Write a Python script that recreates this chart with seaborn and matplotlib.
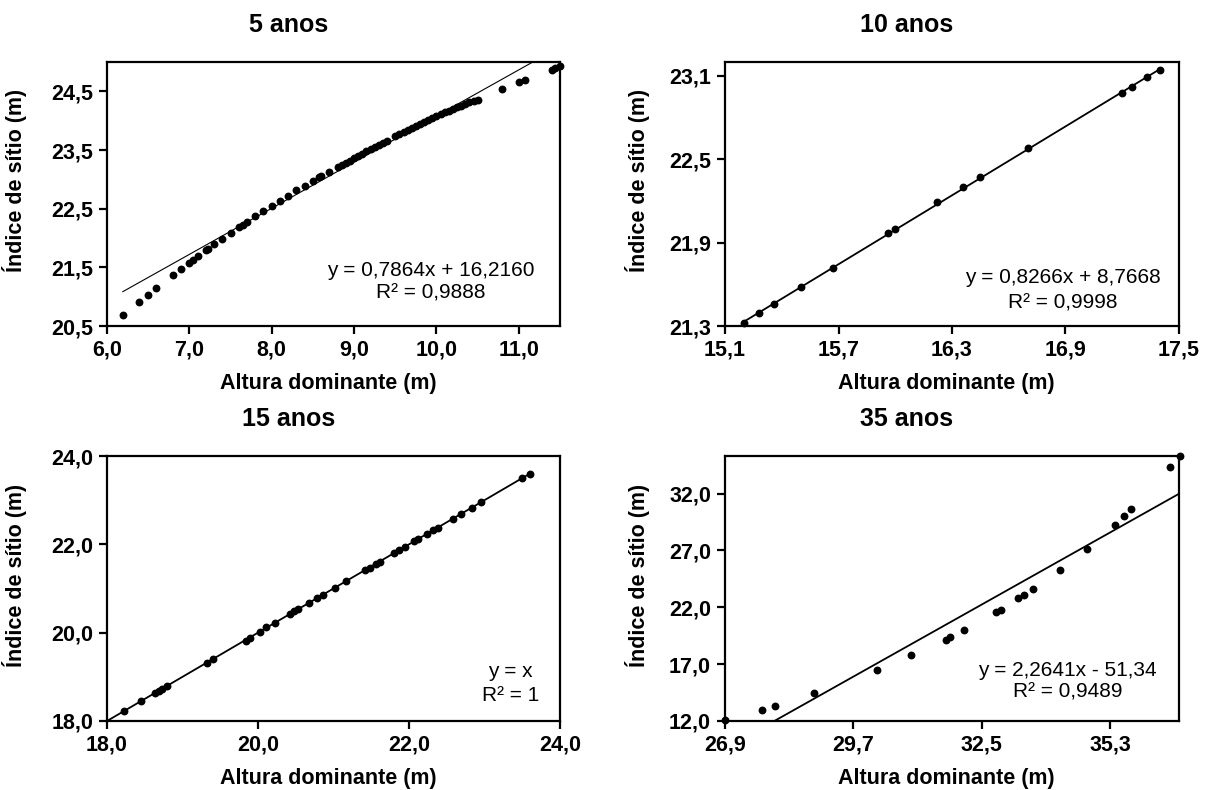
import numpy as np
import pandas as pd
import matplotlib
matplotlib.use("Agg")
import matplotlib.pyplot as plt
import seaborn as sns

sns.set_style("white")
plt.rcParams['font.family'] = ['Liberation Sans', 'DejaVu Sans']
plt.rcParams['text.color'] = 'black'
plt.rcParams['axes.labelcolor'] = 'black'
plt.rcParams['xtick.color'] = 'black'
plt.rcParams['ytick.color'] = 'black'

# ---------------- data ----------------
titles = ["5 anos", "10 anos", "15 anos", "35 anos"]

x5 = [6.19, 6.39, 6.50, 6.60, 6.80, 6.90, 7.00, 7.05, 7.10, 7.20, 7.23, 7.30, 7.40, 7.50,
      7.60, 7.65, 7.70, 7.80, 7.90, 8.00, 8.10, 8.20, 8.30, 8.40, 8.50, 8.58, 8.60, 8.70,
      8.80, 8.85, 8.90, 8.95, 9.00, 9.05, 9.10, 9.15, 9.20, 9.25, 9.30, 9.35, 9.40, 9.50,
      9.55, 9.60, 9.65, 9.70, 9.75, 9.80, 9.85, 9.90, 9.95, 10.00, 10.05, 10.10, 10.15,
      10.20, 10.25, 10.30, 10.35, 10.40, 10.45, 10.50, 10.80, 11.00, 11.07, 11.40, 11.44, 11.50]
y5 = [20.68, 20.91, 21.03, 21.15, 21.37, 21.48, 21.58, 21.63, 21.69, 21.79, 21.82, 21.89, 21.98, 22.09,
      22.18, 22.23, 22.28, 22.37, 22.46, 22.55, 22.63, 22.72, 22.81, 22.89, 22.97, 23.04, 23.06, 23.13,
      23.21, 23.24, 23.28, 23.32, 23.36, 23.40, 23.44, 23.48, 23.52, 23.55, 23.59, 23.62, 23.66, 23.74,
      23.77, 23.80, 23.84, 23.87, 23.91, 23.94, 23.98, 24.01, 24.04, 24.08, 24.11, 24.14, 24.17,
      24.20, 24.23, 24.25, 24.28, 24.31, 24.33, 24.36, 24.54, 24.66, 24.69, 24.87, 24.89, 24.94]

x10 = [15.20, 15.28, 15.36, 15.50, 15.67, 15.96, 16.00, 16.22, 16.36, 16.45, 16.70, 17.20, 17.25, 17.33, 17.40]
y10 = [21.32, 21.39, 21.46, 21.58, 21.72, 21.97, 22.00, 22.19, 22.30, 22.37, 22.58, 22.98, 23.02, 23.09, 23.14]

x15 = [18.22, 18.45, 18.63, 18.69, 18.73, 18.80, 19.33, 19.41, 19.84, 19.89, 20.02, 20.11, 20.23,
       20.43, 20.48, 20.53, 20.67, 20.78, 20.86, 21.02, 21.16, 21.42, 21.48, 21.56, 21.61, 21.80,
       21.87, 21.95, 22.07, 22.12, 22.24, 22.32, 22.38, 22.58, 22.69, 22.83, 22.95, 23.50, 23.60]
y15 = [18.23, 18.45, 18.64, 18.69, 18.73, 18.80, 19.32, 19.40, 19.81, 19.87, 20.02, 20.12, 20.23,
       20.43, 20.48, 20.53, 20.67, 20.78, 20.86, 21.02, 21.17, 21.42, 21.46, 21.56, 21.61, 21.80,
       21.87, 21.95, 22.07, 22.12, 22.24, 22.32, 22.38, 22.58, 22.69, 22.83, 22.95, 23.50, 23.60]

x35 = [26.90, 27.70, 27.99, 28.83, 30.21, 30.96, 31.71, 31.81, 32.11, 32.81, 32.91, 33.30, 33.41,
       33.61, 34.21, 34.80, 35.41, 35.61, 35.75, 36.61, 36.82]
y35 = [12.10, 12.97, 13.35, 14.44, 16.46, 17.76, 19.14, 19.37, 20.02, 21.57, 21.78, 22.81, 23.04,
       23.60, 25.25, 27.15, 29.27, 30.00, 30.62, 34.32, 35.29]

# trend lines: slope, intercept, equation text
slopes = [0.7864, 0.8266, 1.0, 2.2641]
intercepts = [16.2160, 8.7668, 0.0, -51.34]
eq_lines = ["y = 0,7864x + 16,2160", "y = 0,8266x + 8,7668", "y = x", "y = 2,2641x - 51,34"]
r2_lines = ["R² = 0,9888", "R² = 0,9998", "R² = 1", "R² = 0,9489"]

xlims = [(6.0, 11.5), (15.1, 17.5), (18.0, 24.0), (26.9, 36.8)]
ylims = [(20.5, 25.0), (21.3, 23.2), (18.0, 24.0), (12.0, 35.3)]
xticks = [[6.0, 7.0, 8.0, 9.0, 10.0, 11.0], [15.1, 15.7, 16.3, 16.9, 17.5],
          [18.0, 20.0, 22.0, 24.0], [26.9, 29.7, 32.5, 35.3]]
yticks = [[20.5, 21.5, 22.5, 23.5, 24.5], [21.3, 21.9, 22.5, 23.1],
          [18.0, 20.0, 22.0, 24.0], [12.0, 17.0, 22.0, 27.0, 32.0]]
line_widths = [0.8, 1.3, 1.3, 1.3]

xs = [x5, x10, x15, x35]
ys = [y5, y10, y15, y35]

# ---------------- layout ----------------
W, H = 1212, 790
fig = plt.figure(figsize=(W / 100, H / 100), dpi=100)
boxes = [(107, 62, 560, 326), (725, 62, 1179, 326), (107, 456, 560, 721), (725, 456, 1179, 721)]
eq_pos = [(0.714, 0.212, 0.125), (0.744, 0.182, 0.087), (0.89, 0.185, 0.098), (0.755, 0.192, 0.109)]
ylab_x = [-0.177, -0.165, -0.177, -0.165]

def fmt(v, pos=None):
    return f"{v:.1f}".replace(".", ",")

for i in range(4):
    l, t, r, b = boxes[i]
    ax = fig.add_axes([l / W, 1 - b / H, (r - l) / W, (b - t) / H])
    df = pd.DataFrame({"x": xs[i], "y": ys[i]})
    # trend line
    x0 = xlims[i][0] if i == 2 else min(xs[i])
    lx = np.array([x0, max(xs[i])])
    ly = slopes[i] * lx + intercepts[i]
    sns.lineplot(x=lx, y=ly, ax=ax, color="black", linewidth=line_widths[i], zorder=2)
    sns.scatterplot(data=df, x="x", y="y", ax=ax, color="black", s=32, linewidth=0,
                    zorder=3, clip_on=False)
    ax.set_xlim(*xlims[i])
    ax.set_ylim(*ylims[i])
    ax.set_xticks(xticks[i])
    ax.set_yticks(yticks[i])
    ax.xaxis.set_major_formatter(matplotlib.ticker.FuncFormatter(fmt))
    ax.yaxis.set_major_formatter(matplotlib.ticker.FuncFormatter(fmt))
    ax.tick_params(axis="both", direction="out", length=6, width=1.6, color="black",
                   labelcolor="black", labelsize=15.5, pad=4, bottom=True, left=True)
    for lab in ax.get_xticklabels() + ax.get_yticklabels():
        lab.set_fontweight("bold")
    for sp in ax.spines.values():
        sp.set_color("black")
        sp.set_linewidth(1.6)
    ax.set_xlabel("Altura dominante (m)", fontsize=15.5, fontweight="bold", color="black")
    ax.set_ylabel("Índice de sítio (m)", fontsize=15.5, fontweight="bold", color="black")
    ax.xaxis.set_label_coords(0.488, -0.178)
    ax.yaxis.set_label_coords(ylab_x[i], 0.55)
    ax.text(0.40, 1.14, titles[i], transform=ax.transAxes, ha="center", va="center",
            fontsize=18, fontweight="bold", color="black")
    ex, ey1, ey2 = eq_pos[i]
    ax.text(ex, ey1, eq_lines[i], transform=ax.transAxes, ha="center", va="center",
            fontsize=15, color="black")
    ax.text(ex, ey2, r2_lines[i], transform=ax.transAxes, ha="center", va="center",
            fontsize=15, color="black")

fig.savefig("out.png", dpi=100)
